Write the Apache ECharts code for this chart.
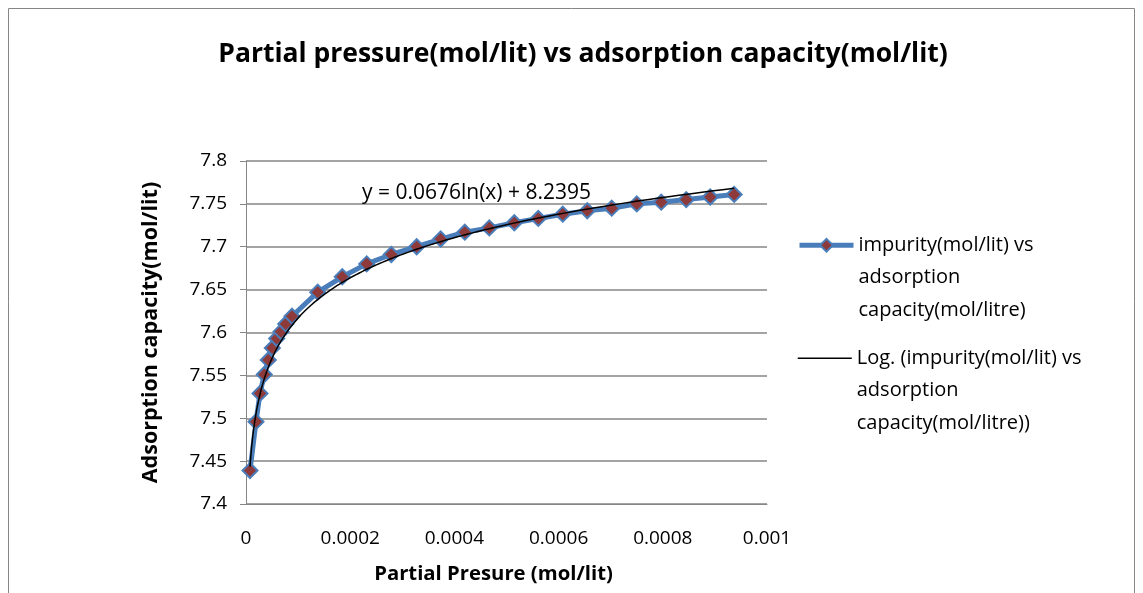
<!DOCTYPE html>
<html>
<head>
<meta charset="utf-8">
<script src="https://cdn.jsdelivr.net/npm/echarts@6/dist/echarts.min.js"></script>
<style>
  html, body { margin: 0; padding: 0; background: #fff; }
  #chart { width: 1143px; height: 593px; }
</style>
</head>
<body>
<div id="chart"></div>
<script>
// Measured isotherm: partial pressure (mol/lit) against adsorption capacity (mol/lit)
const partialPressure = [
  0.0000077, 0.0000192, 0.0000269, 0.0000351, 0.0000428, 0.0000505, 0.0000589,
  0.0000672, 0.0000762, 0.0000883, 0.0001376, 0.0001848, 0.0002317, 0.0002789,
  0.0003276, 0.0003737, 0.0004200, 0.0004670, 0.0005150, 0.0005610, 0.0006080,
  0.0006550, 0.0007020, 0.0007500, 0.0007970, 0.0008450, 0.0008910, 0.0009370
];
const adsorptionCapacity = [
  7.439, 7.496, 7.529, 7.551, 7.568, 7.582, 7.593,
  7.601, 7.610, 7.619, 7.647, 7.665, 7.680, 7.691,
  7.700, 7.709, 7.717, 7.722, 7.728, 7.733, 7.738,
  7.742, 7.745, 7.750, 7.752, 7.755, 7.758, 7.761
];

// Logarithmic fit y = a ln(x) + b, as printed on the chart
const TREND_A = 0.0676;
const TREND_B = 8.2395;
const trendLabel = 'y = 0.0676ln(x) + 8.2395';

const xTickLabels = ['0', '0.0002', '0.0004', '0.0006', '0.0008', '0.001'];
const yTickLabels = ['7.4', '7.45', '7.5', '7.55', '7.6', '7.65', '7.7', '7.75', '7.8'];

const seriesName = 'impurity(mol/lit) vs\nadsorption\ncapacity(mol/litre)';
const trendName = 'Log. (impurity(mol/lit) vs\nadsorption\ncapacity(mol/litre))';

const FONT = '"Open Sans", "Noto Sans", "DejaVu Sans", sans-serif';

// Points along the fitted curve between the smallest and largest pressure
const xMin = Math.min(...partialPressure);
const xMax = Math.max(...partialPressure);
const trendData = [];
const steps = 200;
for (let i = 0; i <= steps; i++) {
  const x = Math.exp(Math.log(xMin) + (Math.log(xMax) - Math.log(xMin)) * i / steps);
  trendData.push([x, TREND_A * Math.log(x) + TREND_B]);
}

const points = partialPressure.map((x, i) => [x, adsorptionCapacity[i]]);

const chart = echarts.init(document.getElementById('chart'), null, { renderer: 'canvas' });

// Legend text is vertically centred on its key; two blank lines on top
// keep the key level with the first line of the wrapped name.
const legendText = {
  color: '#000',
  fontFamily: FONT,
  fontSize: 20,
  lineHeight: 32.5
};
const legendFormatter = (name) => '\n\n' + name;

chart.setOption({
  animation: false,
  backgroundColor: '#fff',
  title: {
    text: 'Partial pressure(mol/lit) vs adsorption capacity(mol/lit)',
    left: 578,
    top: 36,
    textAlign: 'center',
    textStyle: { fontFamily: FONT, fontWeight: 'bold', fontSize: 26.5, color: '#000' }
  },
  grid: { left: 246, right: 376, top: 161, bottom: 89, containLabel: false },
  xAxis: {
    type: 'value',
    min: 0,
    max: 0.001,
    interval: 0.0002,
    name: 'Partial Presure (mol/lit)',
    nameLocation: 'middle',
    nameGap: 60,
    nameTextStyle: {
      fontFamily: FONT, fontWeight: 'bold', fontSize: 20.3, color: '#000',
      padding: [0, 26, 0, 0]
    },
    axisLine: { show: true, lineStyle: { color: '#868686', width: 1 } },
    axisTick: { show: false },
    splitLine: { show: false },
    axisLabel: {
      margin: 25,
      fontFamily: FONT,
      fontSize: 19,
      color: '#000',
      formatter: (v) => xTickLabels[Math.round(v / 0.0002)]
    }
  },
  yAxis: {
    type: 'value',
    min: 7.4,
    max: 7.8,
    interval: 0.05,
    name: 'Adsorption capacity(mol/lit)',
    nameLocation: 'middle',
    nameGap: 84,
    nameTextStyle: { fontFamily: FONT, fontWeight: 'bold', fontSize: 21.5, color: '#000' },
    axisLine: { show: true, lineStyle: { color: '#868686', width: 1 } },
    axisTick: { show: true, inside: false, length: 6, lineStyle: { color: '#868686', width: 1 } },
    splitLine: { show: true, lineStyle: { color: '#868686', width: 1.5 } },
    axisLabel: {
      margin: 19,
      fontFamily: FONT,
      fontSize: 19,
      color: '#000',
      formatter: (v) => yTickLabels[Math.round((v - 7.4) / 0.05)]
    }
  },
  legend: [
    {
      data: [seriesName],
      orient: 'vertical',
      left: 797,
      top: 164,
      padding: 0,
      itemWidth: 54,
      itemHeight: 16,
      itemGap: 0,
      formatter: legendFormatter,
      lineStyle: { color: '#4a7ebb', width: 5 },
      textStyle: legendText
    },
    {
      data: [trendName],
      orient: 'vertical',
      left: 797,
      top: 277,
      padding: 0,
      itemWidth: 54,
      itemHeight: 16,
      itemGap: 0,
      formatter: legendFormatter,
      itemStyle: { color: 'rgba(0,0,0,0)', borderWidth: 0 },
      lineStyle: { color: '#000', width: 1.5 },
      textStyle: legendText
    }
  ],
  graphic: [
    {
      type: 'rect',
      shape: { x: 8.5, y: 8.5, width: 1126, height: 620 },
      style: { fill: 'none', stroke: '#868686', lineWidth: 1 },
      silent: true
    },
    {
      type: 'text',
      left: 362,
      top: 183,
      style: { text: trendLabel, fontFamily: FONT, fontSize: 21, fill: '#000' },
      z: 10
    }
  ],
  series: [
    {
      name: seriesName,
      type: 'line',
      data: points,
      symbol: 'diamond',
      symbolSize: 15,
      lineStyle: { color: '#4a7ebb', width: 5 },
      itemStyle: { color: '#8e3a3a', borderColor: '#4a7ebb', borderWidth: 2 },
      z: 2
    },
    {
      name: trendName,
      type: 'line',
      data: trendData,
      symbol: 'none',
      lineStyle: { color: '#000', width: 1.5 },
      itemStyle: { color: '#000' },
      z: 3
    }
  ]
});
</script>
</body>
</html>
